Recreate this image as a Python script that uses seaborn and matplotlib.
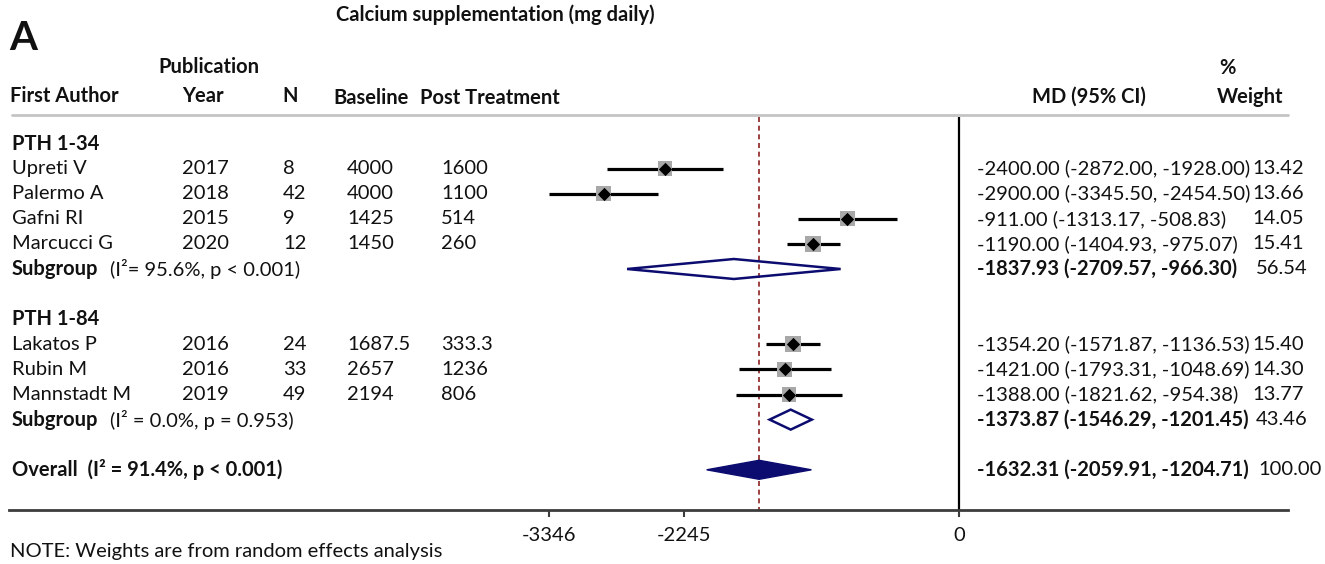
import numpy as np
import pandas as pd
import seaborn as sns
import matplotlib.pyplot as plt
from matplotlib import transforms
from matplotlib.patches import Polygon

# study data
groups = ["PTH 1-34", "PTH 1-34", "PTH 1-34", "PTH 1-34", "PTH 1-84", "PTH 1-84", "PTH 1-84"]
authors = ["Upreti V", "Palermo A", "Gafni RI", "Marcucci G", "Lakatos P", "Rubin M", "Mannstadt M"]
years = [2017, 2018, 2015, 2020, 2016, 2016, 2019]
n = [8, 42, 9, 12, 24, 33, 49]
baseline = ["4000", "4000", "1425", "1450", "1687.5", "2657", "2194"]
post = ["1600", "1100", "514", "260", "333.3", "1236", "806"]
md = [-2400.00, -2900.00, -911.00, -1190.00, -1354.20, -1421.00, -1388.00]
lo = [-2872.00, -3345.50, -1313.17, -1404.93, -1571.87, -1793.31, -1821.62]
hi = [-1928.00, -2454.50, -508.83, -975.07, -1136.53, -1048.69, -954.38]
weight = [13.42, 13.66, 14.05, 15.41, 15.40, 14.30, 13.77]

# subgroup pooled estimates
sub_names = ["PTH 1-34", "PTH 1-84"]
sub_md = [-1837.93, -1373.87]
sub_lo = [-2709.57, -1546.29]
sub_hi = [-966.30, -1201.45]
sub_w = [56.54, 43.46]
sub_het = ["(I\u00b2= 95.6%, p < 0.001)", "(I\u00b2 = 0.0%, p = 0.953)"]

# overall pooled estimate
ov_md, ov_lo, ov_hi, ov_w = -1632.31, -2059.91, -1204.71, 100.00
ov_het = "(I\u00b2 = 91.4%, p < 0.001)"

xticks = [-3346, -2245, 0]

df = pd.DataFrame({"group": groups, "author": authors, "year": years, "n": n,
                   "baseline": baseline, "post": post, "md": md, "lo": lo,
                   "hi": hi, "weight": weight})

sns.set_theme(style="ticks")
plt.rcParams['font.family'] = ['Lato', 'DejaVu Sans']

W, H = 1325, 564
K = 0.1225      # pixels per MD unit
X0 = 959        # pixel of MD = 0
AXB = 510       # pixel row of the axis line
Y0, STEP = 143.5, 25.1
FS = 14.5
NAVY = "#0c0c70"

def px2x(px):
    return (px - X0) / K

# row layout
rows, sub_rows, head_rows = [], [], []
r = 0
for g in sub_names:
    head_rows.append(r)
    r += 1
    for _ in range((df["group"] == g).sum()):
        rows.append(r)
        r += 1
    sub_rows.append(r)
    r += 2
ov_row = r
df["y"] = [Y0 + STEP * i for i in rows]
sub_y = [Y0 + STEP * i for i in sub_rows]
head_y = [Y0 + STEP * i for i in head_rows]
ov_y = Y0 + STEP * ov_row

fig = plt.figure(figsize=(W / 100, H / 100), dpi=100)
ax = fig.add_axes([0, 1 - AXB / H, 1, AXB / H])
ax.set_xlim(px2x(0), px2x(W))
ax.set_ylim(AXB, 0)

# reference lines
ax.vlines(0, 117, AXB, colors="black", lw=1.6)
ax.vlines(ov_md, 117, AXB, colors="#8b2020", lw=1.2, linestyles=(0, (3, 2.2)))

# study CIs, weight boxes, point estimates
ax.hlines(df["y"], df["lo"], df["hi"], colors="black", lw=2.3)
sns.scatterplot(data=df, x="md", y="y", size="weight", sizes=(0, 20 * 8.3),
                size_norm=(0, 20), marker="s", color="#a8a8a8", linewidth=0,
                legend=False, ax=ax, zorder=3)
sns.scatterplot(data=df, x="md", y="y", marker="D", color="black", s=46,
                linewidth=0, legend=False, ax=ax, zorder=4)

# pooled diamonds
for m, l, h, y in zip(sub_md, sub_lo, sub_hi, sub_y):
    ax.add_patch(Polygon([(l, y), (m, y - 10), (h, y), (m, y + 10)], closed=True,
                         fill=False, edgecolor=NAVY, lw=1.8, zorder=4))
ax.add_patch(Polygon([(ov_lo, ov_y), (ov_md, ov_y - 9.5), (ov_hi, ov_y), (ov_md, ov_y + 9.5)],
                     closed=True, facecolor=NAVY, edgecolor=NAVY, lw=1, zorder=4))

# axis
for s in ["left", "right", "top"]:
    ax.spines[s].set_visible(False)
ax.spines["bottom"].set_bounds(px2x(9), px2x(1288))
ax.spines["bottom"].set_color("#3c3c3c")
ax.spines["bottom"].set_linewidth(2)
ax.set_xticks(xticks)
ax.set_xticklabels([str(t) for t in xticks])
ax.set_yticks([])
ax.tick_params(axis="x", direction="out", length=5, width=1.5, color="#3c3c3c",
               labelsize=FS, pad=7, bottom=True, labelcolor="#111111")
ax.set_xlabel("")
ax.set_ylabel("")

# header rule
fig.add_artist(plt.Line2D([12 / W, 1288 / W], [1 - 115 / H] * 2, color="#c4c4c4",
                          lw=2, transform=fig.transFigure))

# text table
tr = transforms.blended_transform_factory(fig.transFigure, ax.transData)

def put(px, y, s, bold=False, ha="left", size=FS):
    ax.text(px / W, y, s, transform=tr, ha=ha, va="center", fontsize=size,
            fontweight="bold" if bold else "normal", color="#111111", clip_on=False)

put(9, 38, "A", bold=True, size=29)
put(495, 15, "Calcium supplementation (mg daily)", bold=True, ha="center")
put(209, 67, "Publication", bold=True, ha="center")
put(10, 96, "First Author", bold=True)
put(182, 96, "Year", bold=True)
put(282, 96, "N", bold=True)
put(333, 98, "Baseline", bold=True)
put(420, 98, "Post Treatment", bold=True)
put(1089, 97, "MD (95% CI)", bold=True, ha="center")
put(1227, 68, "%", bold=True, ha="center")
put(1250, 97, "Weight", bold=True, ha="center")

for g, y in zip(sub_names, head_y):
    put(12, y, g, bold=True)

for _, row in df.iterrows():
    y = row["y"]
    put(12, y, row["author"])
    put(182, y, str(row["year"]))
    put(283, y, str(row["n"]))
    put(347, y, row["baseline"])
    put(441, y, row["post"])
    put(977, y, f"{row['md']:.2f} ({row['lo']:.2f}, {row['hi']:.2f})")
    put(1252, y, f"{row['weight']:.2f}")

for m, l, h, w, het, y in zip(sub_md, sub_lo, sub_hi, sub_w, sub_het, sub_y):
    put(12, y, "Subgroup", bold=True)
    put(110, y, het)
    put(977, y, f"{m:.2f} ({l:.2f}, {h:.2f})", bold=True)
    put(1256, y, f"{w:.2f}")

put(12, ov_y, "Overall  " + ov_het, bold=True)
put(977, ov_y, f"{ov_md:.2f} ({ov_lo:.2f}, {ov_hi:.2f})", bold=True)
put(1258, ov_y, f"{ov_w:.2f}")

fig.text(10 / W, 1 - 551 / H, "NOTE: Weights are from random effects analysis",
         ha="left", va="center", fontsize=FS, color="#111111")

fig.savefig("out.png", dpi=100)
